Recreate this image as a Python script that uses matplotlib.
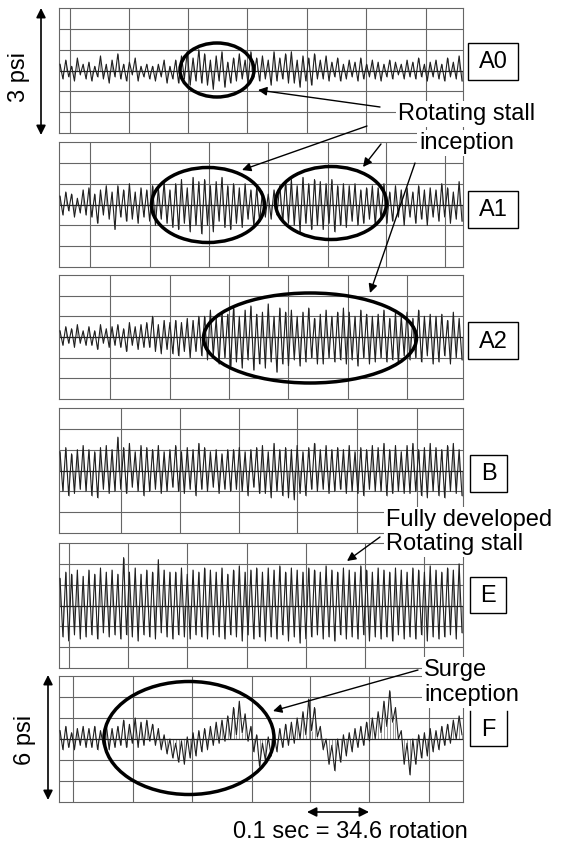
import numpy as np
import matplotlib
matplotlib.use("Agg")
import matplotlib.pyplot as plt
from matplotlib.patches import Ellipse, Rectangle

plt.rcParams['font.family'] = ['Liberation Sans', 'DejaVu Sans']

# ---- data: alternating oscillation extremes (grid divisions, 0 = centre line) ----
sig_A0 = [0.3,-0.4,0.5,-0.3,0.2,-0.5,0.6,-0.2,0.3,-0.4,
          0.4,-0.5,0.2,-0.3,0.7,-0.4,0.3,-0.6,0.5,-0.3,
          0.8,-0.4,0.3,-0.5,0.4,-0.2,0.6,-0.5,0.2,-0.3,
          0.3,-0.4,0.2,-0.5,0.3,-0.3,0.5,-0.6,0.2,-0.4,
          0.5,-0.6,0.7,-0.4,0.9,-0.7,0.6,-0.5,1.0,-0.6,
          0.8,-0.7,0.5,-0.9,0.7,-0.5,0.9,-0.8,0.4,-0.6,
          0.6,-0.5,0.8,-0.4,0.5,-0.6,0.9,-0.3,0.6,-0.5,
          0.7,-0.4,0.5,-0.7,0.9,-0.5,0.6,-0.4,0.8,-0.6,
          0.9,-0.6,0.5,-0.8,0.7,-0.5,0.6,-0.7,0.8,-0.4,
          0.5,-0.4,0.7,-0.5,0.4,-0.3,0.6,-0.5,0.3,-0.4,
          0.5,-0.3,0.4,-0.5,0.6,-0.4,0.3,-0.3,0.5,-0.4,
          0.4,-0.5,0.3,-0.3,0.5,-0.4,0.4,-0.2,0.3,-0.4,
          0.5,-0.3,0.4,-0.4,0.6,-0.3,0.3,-0.5,0.4,-0.3,
          0.5,-0.4,0.3,-0.5,0.6,-0.3,0.4,-0.4,0.7,-0.5]
sig_A1 = [0.4,-0.5,0.6,-0.3,0.5,-0.6,0.3,-0.4,0.7,-0.5,
          0.8,-0.6,0.5,-0.9,0.7,-0.5,0.9,-0.7,0.6,-1.2,
          0.9,-0.6,0.7,-0.8,1.0,-0.7,0.6,-0.9,0.8,-0.6,
          0.7,-0.8,0.9,-1.0,0.8,-0.7,1.1,-0.9,0.7,-1.1,
          1.0,-1.2,1.2,-0.9,0.8,-1.3,1.3,-1.0,1.1,-1.4,
          1.2,-1.0,0.9,-1.3,1.1,-0.8,1.3,-1.1,0.9,-1.2,
          1.0,-0.9,0.8,-1.1,1.0,-0.7,0.7,-1.0,0.8,-0.8,
          0.6,-0.6,0.5,-0.7,0.7,-0.5,0.9,-0.8,1.1,-0.9,
          1.2,-1.0,0.9,-1.3,1.3,-0.9,1.0,-1.2,1.2,-1.0,
          1.1,-1.2,1.0,-0.9,1.2,-1.3,0.9,-1.0,1.0,-1.1,
          0.9,-0.8,1.0,-1.0,0.7,-0.9,0.8,-0.7,0.9,-1.0,
          0.8,-0.7,1.0,-0.9,0.6,-0.8,0.9,-0.6,0.7,-1.0,
          0.8,-0.6,0.6,-0.9,0.9,-0.7,0.7,-1.0,0.8,-0.6,
          0.7,-0.8,1.0,-0.6,0.8,-0.9,0.6,-0.7,1.1,-0.8]
sig_A2 = [0.3,-0.4,0.5,-0.3,0.4,-0.5,0.6,-0.3,0.3,-0.4,
          0.5,-0.4,0.3,-0.6,0.6,-0.3,0.4,-0.5,0.5,-0.4,
          0.6,-0.5,0.4,-0.7,0.7,-0.4,0.5,-0.6,0.6,-0.5,
          0.7,-0.5,1.0,-0.7,0.6,-0.8,0.8,-0.6,0.7,-0.8,
          0.8,-0.9,0.7,-0.7,0.9,-1.0,0.8,-0.7,1.0,-0.9,
          1.0,-1.1,1.3,-0.9,0.9,-1.3,1.2,-1.0,1.1,-1.4,
          1.4,-1.2,1.0,-1.5,1.3,-1.1,1.5,-1.6,1.1,-1.3,
          1.2,-1.5,1.6,-1.2,1.0,-1.7,1.4,-1.3,1.2,-1.4,
          1.3,-1.1,1.0,-1.4,1.2,-1.2,1.4,-1.0,0.9,-1.3,
          1.1,-1.3,1.3,-1.0,1.0,-1.2,1.2,-1.1,1.4,-1.3,
          1.2,-1.1,1.0,-1.4,1.3,-1.0,1.1,-1.3,1.0,-1.2,
          1.1,-1.0,1.3,-1.2,0.9,-1.1,1.2,-1.3,1.0,-0.9,
          1.2,-1.1,0.9,-1.0,1.3,-1.2,1.0,-0.9,1.1,-1.3,
          1.0,-1.2,1.1,-0.9,0.8,-1.3,1.2,-1.0,0.9,-1.1]
sig_B = [0.9,-1.0,1.1,-1.2,0.8,-1.1,1.0,-0.9,1.2,-1.0,
         1.0,-1.2,0.9,-1.3,1.1,-0.9,1.2,-1.1,1.0,-1.0,
         1.6,-0.9,1.1,-1.1,1.3,-0.8,0.9,-1.0,1.2,-1.2,
         1.1,-1.0,1.0,-0.9,1.2,-1.1,0.9,-1.0,1.0,-0.8,
         1.2,-1.0,0.9,-1.1,1.1,-0.9,1.0,-1.2,1.3,-0.9,
         1.1,-1.0,0.9,-0.8,1.0,-1.1,0.8,-0.9,1.0,-1.0,
         1.0,-0.9,1.1,-1.0,0.9,-1.2,1.0,-0.8,1.1,-1.1,
         1.2,-1.1,0.9,-1.3,1.3,-1.0,1.0,-1.2,1.1,-1.3,
         1.0,-1.4,1.2,-1.1,0.9,-1.2,1.1,-0.9,1.3,-1.0,
         1.0,-0.9,1.2,-1.1,1.0,-1.0,1.1,-0.9,1.0,-1.1,
         1.2,-1.0,0.9,-1.1,1.1,-1.2,1.0,-0.9,1.2,-1.0,
         1.1,-1.0,1.3,-1.2,1.0,-1.1,1.2,-1.0,0.9,-1.1,
         1.2,-1.1,1.3,-1.0,1.0,-1.2,1.1,-1.3,1.3,-1.0,
         1.1,-1.2,1.0,-1.3,1.2,-1.0,1.3,-1.1,1.0,-1.2]
sig_E = [1.3,-1.5,1.6,-1.7,1.5,-1.4,1.7,-1.6,1.4,-1.5,
         1.7,-1.4,1.5,-1.6,1.8,-1.3,1.6,-1.5,1.7,-1.4,
         1.5,-1.6,2.3,-1.4,1.6,-1.5,1.8,-1.7,1.5,-1.4,
         1.7,-1.5,1.6,-1.6,2.2,-1.3,1.7,-1.5,1.6,-1.6,
         1.6,-1.4,1.8,-1.5,1.5,-1.6,1.7,-1.4,1.6,-1.5,
         1.8,-1.6,1.7,-1.4,1.6,-1.5,1.8,-1.6,1.5,-1.4,
         1.7,-1.5,1.9,-1.7,1.6,-1.4,1.7,-1.6,1.8,-1.5,
         1.6,-1.7,1.8,-1.5,1.7,-1.6,1.9,-1.4,1.6,-1.7,
         1.8,-1.5,1.7,-1.8,1.6,-1.6,1.8,-1.5,1.7,-1.4,
         1.6,-1.6,1.9,-1.5,1.7,-1.7,1.6,-1.4,1.8,-1.6,
         1.7,-1.5,1.6,-1.6,1.9,-1.4,1.7,-1.7,1.6,-1.5,
         1.8,-1.6,1.7,-1.5,1.6,-1.7,1.8,-1.4,1.7,-1.6,
         1.6,-1.5,1.8,-1.6,1.7,-1.4,1.6,-1.7,1.9,-1.5,
         1.7,-1.6,1.6,-1.5,1.8,-1.4,1.7,-1.6,2.0,-1.3]
sig_F = [0.4,-0.5,0.6,-0.4,0.3,-0.5,0.5,-0.3,0.6,-0.4,
         0.5,-0.4,0.6,-0.5,0.4,-0.3,0.7,-0.5,0.5,-0.4,
         0.6,-0.3,0.9,-0.4,0.7,-0.2,1.0,-0.4,0.8,-0.3,
         0.9,-0.1,0.7,-0.3,0.5,-0.5,0.2,-0.7,0.0,-0.9,
         -0.2,-1.1,-0.1,-1.2,0.1,-0.9,0.3,-0.8,0.4,-0.6,
         0.5,-0.5,0.6,-0.3,0.8,-0.2,0.9,-0.1,1.1,0.0,
         1.5,0.2,1.8,0.3,1.2,-0.1,0.6,-0.6,0.2,-1.3,
         -0.2,-1.0,0.1,-0.8,0.3,-0.6,0.5,-0.4,0.7,-0.3,
         0.8,-0.2,1.0,0.0,1.3,0.2,1.9,0.4,1.5,0.1,
         0.6,-0.5,0.0,-1.2,-0.3,-1.5,0.0,-1.1,0.2,-0.8,
         0.3,-0.6,0.5,-0.4,0.6,-0.3,0.8,-0.1,1.0,0.0,
         1.3,0.3,1.8,0.6,2.3,0.8,1.5,0.0,0.4,-1.2,
         -0.2,-1.7,0.0,-1.2,0.2,-0.9,0.3,-0.8,0.5,-0.6,
         0.4,-0.5,0.6,-0.3,0.7,-0.2,0.9,0.0,1.1,0.2]

labels = ["A0", "A1", "A2", "B", "E", "F"]
signals = [sig_A0, sig_A1, sig_A2, sig_B, sig_E, sig_F]

# ---- layout (pixels) ----
W, H = 563, 842
panels = [(59, 8, 463, 133), (59, 142, 463, 267), (59, 275, 463, 399),
          (59, 408, 463, 533), (59, 543, 463, 668), (59, 676, 463, 802)]
vgrid = [[70, 129, 188, 247, 307, 366, 426],
         [90, 150, 209, 268, 328, 386, 445],
         [110, 170, 229, 288, 348, 407],
         [121, 180, 239, 297, 357, 417],
         [69, 128, 187, 247, 306, 365, 424],
         [73, 133, 192, 252, 310, 369, 429]]
boxes = [(468, 43, 518, 80), (468, 191, 518, 228), (468, 322, 518, 359),
         (470, 455, 507, 492), (470, 577, 506, 613), (470, 711, 507, 746)]

fig = plt.figure(figsize=(W / 100, H / 100), dpi=100)

for (l, t, r, b), vg, sig in zip(panels, vgrid, signals):
    ax = fig.add_axes([l / W, 1 - b / H, (r - l) / W, (b - t) / H])
    ax.set_xlim(l, r)
    ax.set_ylim(-3, 3)
    for v in vg:
        ax.axvline(v, color='#666666', lw=0.8, zorder=1)
    for h in [-2, -1, 1, 2]:
        ax.axhline(h, color='#666666', lw=0.8, zorder=1)
    x = np.linspace(l + 1, r - 1, len(sig))
    ax.vlines(x, 0, sig, color='#9a9a9a', lw=0.7, zorder=2)
    ax.axhline(0, color='#222222', lw=0.9, zorder=2)
    ax.plot(x, sig, color='#202020', lw=0.8, zorder=3)
    ax.set_xticks([])
    ax.set_yticks([])
    for s in ax.spines.values():
        s.set_color('#666666')
        s.set_linewidth(0.8)

ov = fig.add_axes([0, 0, 1, 1], zorder=10)
ov.set_xlim(0, W)
ov.set_ylim(H, 0)
ov.axis('off')
ov.patch.set_alpha(0)

FS = 17
WB = dict(facecolor='white', edgecolor='none', pad=1.5)
for lab, (l, t, r, b) in zip(labels, boxes):
    if lab == "F":
        ov.plot([l, l, r, r], [t, b, b, t], color='black', lw=1.0)
    else:
        ov.add_patch(Rectangle((l, t), r - l, b - t, fill=False, ec='black', lw=1.0))
    ov.text((l + r) / 2, (t + b) / 2 + 1, lab, ha='center', va='center', fontsize=FS)

# ellipses
for cx, cy, w, h in [(217, 70, 74, 54), (208, 205, 113, 75), (331, 203, 111, 73),
                     (310, 338, 213, 90), (189, 738, 170, 113)]:
    ov.add_patch(Ellipse((cx, cy), w, h, fill=False, ec='black', lw=2.5, zorder=5))

# scale arrows
dbl = dict(arrowstyle='<|-|>', color='black', lw=1.2, mutation_scale=14, shrinkA=0, shrinkB=0)
ov.annotate('', xy=(41, 8), xytext=(41, 135), arrowprops=dbl)
ov.annotate('', xy=(48, 675), xytext=(48, 800), arrowprops=dbl)
ov.annotate('', xy=(307, 812), xytext=(369, 812), arrowprops=dbl)
ov.text(19, 77, '3 psi', rotation=90, ha='center', va='center', fontsize=FS)
ov.text(25, 740, '6 psi', rotation=90, ha='center', va='center', fontsize=FS)
ov.text(350, 838, '0.1 sec = 34.6 rotation', ha='center', va='baseline', fontsize=FS)

# annotations (white background hides the panel frames behind them)
ov.text(467, 120, 'Rotating stall', ha='center', va='baseline', fontsize=FS, bbox=WB, zorder=6)
ov.text(467, 149, 'inception', ha='center', va='baseline', fontsize=FS, bbox=WB, zorder=6)
ov.text(386, 526, 'Fully developed', ha='left', va='baseline', fontsize=FS, bbox=WB, zorder=6)
ov.text(386, 550, 'Rotating stall', ha='left', va='baseline', fontsize=FS, bbox=WB, zorder=6)
ov.text(424, 676, 'Surge', ha='left', va='baseline', fontsize=FS, bbox=WB, zorder=6)
ov.text(424, 701, 'inception', ha='left', va='baseline', fontsize=FS, bbox=WB, zorder=6)

one = dict(arrowstyle='-|>', color='black', lw=1.0, mutation_scale=13, shrinkA=0, shrinkB=0)
for (x0, y0), (x1, y1) in [((380, 107), (258, 90)), ((367, 126), (242, 170)),
                           ((381, 144), (363, 167)), ((415, 163), (370, 293)),
                           ((380, 537), (347, 561)), ((418, 670), (273, 711))]:
    ov.annotate('', xy=(x1, y1), xytext=(x0, y0), arrowprops=one, zorder=7)

fig.savefig('out.png', dpi=100)
